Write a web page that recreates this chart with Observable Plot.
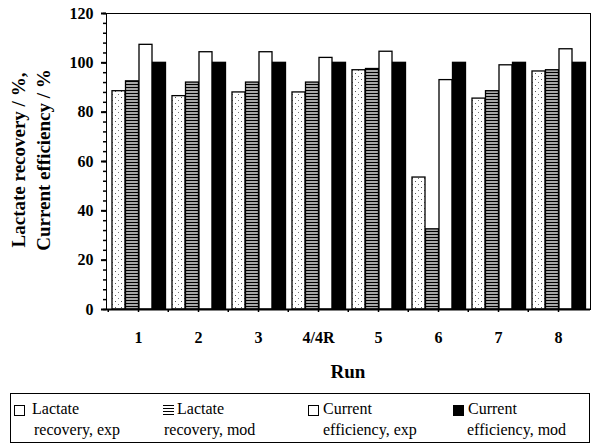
<!DOCTYPE html>
<html><head><meta charset="utf-8">
<script src="https://cdn.jsdelivr.net/npm/d3@7"></script>
<script src="https://cdn.jsdelivr.net/npm/@observablehq/plot@0.6"></script>
<style>
body{margin:0;background:#fff;}
#wrap{position:relative;width:591px;height:448px;font-family:'Liberation Serif','DejaVu Serif',serif;color:#000;}
#legend{position:absolute;left:10px;top:393px;width:580px;height:50px;border:1px solid #000;box-sizing:border-box;font-size:16px;}
.l1{position:absolute;top:6px;white-space:nowrap;line-height:18px;}
.l2{position:absolute;top:27px;white-space:nowrap;line-height:18px;}
.sw{position:absolute;top:11px;width:11px;height:11px;box-sizing:border-box;}
</style></head><body><div id="wrap"><div id="chart"></div><div id="legend"></div></div>
<script>
const runs = ["1", "2", "3", "4/4R", "5", "6", "7", "8"];
const seriesNames = ["Lactate recovery, exp", "Lactate recovery, mod", "Current efficiency, exp", "Current efficiency, mod"];
const lactateRecoveryExp = [88.5, 86.5, 88, 88, 97, 53.5, 85.5, 96.5];
const lactateRecoveryMod = [92.5, 92, 92, 92, 97.5, 32.5, 88.5, 97];
const currentEfficiencyExp = [107.3, 104.3, 104.3, 102, 104.5, 93, 99, 105.5];
const currentEfficiencyMod = [100, 100, 100, 100, 100, 100, 100, 100];
const yTicks = [0, 20, 40, 60, 80, 100, 120];
const legendLines = [["Lactate", "recovery, exp"], ["Lactate", "recovery, mod"], ["Current", "efficiency, exp"], ["Current", "efficiency, mod"]];

const values = [lactateRecoveryExp, lactateRecoveryMod, currentEfficiencyExp, currentEfficiencyMod];
const fills = ["url(#dots)", "url(#stripes)", "white", "black"];
const FONT = "'Liberation Serif','DejaVu Serif',serif";

const W = 591, H = 390, mL = 106, mR = 1, mT = 13, mB = 81;
const bw = (W - mL - mR) / runs.length;
const sub = d3.scaleBand().domain(seriesNames).range([4, bw - 2.5]);

const barMarks = seriesNames.map((s, k) =>
  Plot.barY(runs.map((r, i) => ({run: r, series: s, value: values[k][i]})), {
    x: "run", y: "value", fill: fills[k], stroke: "black", strokeWidth: 1.3,
    insetLeft: sub(s), insetRight: bw - sub(s) - sub.bandwidth()
  })
);

const plot = Plot.plot({
  width: W, height: H,
  marginLeft: mL, marginRight: mR, marginTop: mT, marginBottom: mB,
  style: {fontFamily: FONT, fontSize: "16px", fontWeight: "bold", color: "#000", background: "#fff"},
  x: {domain: runs, padding: 0, label: null},
  y: {domain: [0, 120], label: null},
  marks: [
    ...barMarks,
    Plot.frame({stroke: "black", strokeWidth: 1}),
    Plot.ruleY([0], {stroke: "black", strokeWidth: 2}),
    Plot.axisY({ticks: d3.range(0, 121, 4), tickSize: 3, tickFormat: () => "", label: null, strokeWidth: 1.5}),
    Plot.axisY({ticks: yTicks, tickSize: 5, tickPadding: 8, label: null, strokeWidth: 2}),
    Plot.axisX({tickSize: 3, tickPadding: 19, label: null, strokeWidth: 1.5}),
    Plot.ruleX(runs, {x: d => d, dx: -bw / 2, y1: 0, y2: 0, insetBottom: -3, stroke: "black", strokeWidth: 1.5})
  ]
});
document.getElementById("chart").appendChild(plot);

const svg = d3.select(plot);
const defs = svg.insert("defs", ":first-child");
const pd = defs.append("pattern").attr("id", "dots").attr("patternUnits", "userSpaceOnUse").attr("width", 6).attr("height", 6);
pd.append("rect").attr("width", 6).attr("height", 6).attr("fill", "white");
pd.append("rect").attr("x", 1).attr("y", 1).attr("width", 1).attr("height", 1).attr("fill", "#555");
pd.append("rect").attr("x", 4).attr("y", 4).attr("width", 1).attr("height", 1).attr("fill", "#777");
const ps = defs.append("pattern").attr("id", "stripes").attr("patternUnits", "userSpaceOnUse").attr("width", 4).attr("height", 3);
ps.append("rect").attr("width", 4).attr("height", 3).attr("fill", "#a8a8a8");
ps.append("rect").attr("width", 4).attr("height", 1).attr("fill", "black");

const t = svg.append("text").attr("transform", "translate(0,160) rotate(-90)")
  .attr("text-anchor", "middle").attr("font-size", 19).attr("font-weight", "bold")
  .style("font-family", FONT);
t.append("tspan").attr("x", 0).attr("y", 25).text("Lactate recovery / %,");
t.append("tspan").attr("x", 0).attr("y", 50).text("Current efficiency / %");

svg.append("text").attr("x", (mL + W - mR) / 2).attr("y", 378).attr("text-anchor", "middle")
  .attr("font-size", 19).attr("font-weight", "bold")
  .style("font-family", FONT).text("Run");

const legend = document.getElementById("legend");
const pos = [{sw: 3, l1: 21, l2: 23}, {sw: 152, l1: 166, l2: 153}, {sw: 297, l1: 312, l2: 312}, {sw: 442, l1: 457, l2: 456}];
const swStyle = [
  "border:1px solid #000;background:#fff;",
  "background:repeating-linear-gradient(to bottom,#000 0,#000 1px,#fff 1px,#fff 3px);",
  "border:1px solid #000;background:#fff;",
  "background:#000;"
];
legendLines.forEach((lines, i) => {
  const sw = document.createElement("div");
  sw.className = "sw"; sw.style.cssText = swStyle[i] + "left:" + pos[i].sw + "px;";
  legend.appendChild(sw);
  const a = document.createElement("div"); a.className = "l1"; a.style.left = pos[i].l1 + "px"; a.textContent = lines[0];
  const b = document.createElement("div"); b.className = "l2"; b.style.left = pos[i].l2 + "px"; b.textContent = lines[1];
  legend.appendChild(a); legend.appendChild(b);
});
</script></body></html>
